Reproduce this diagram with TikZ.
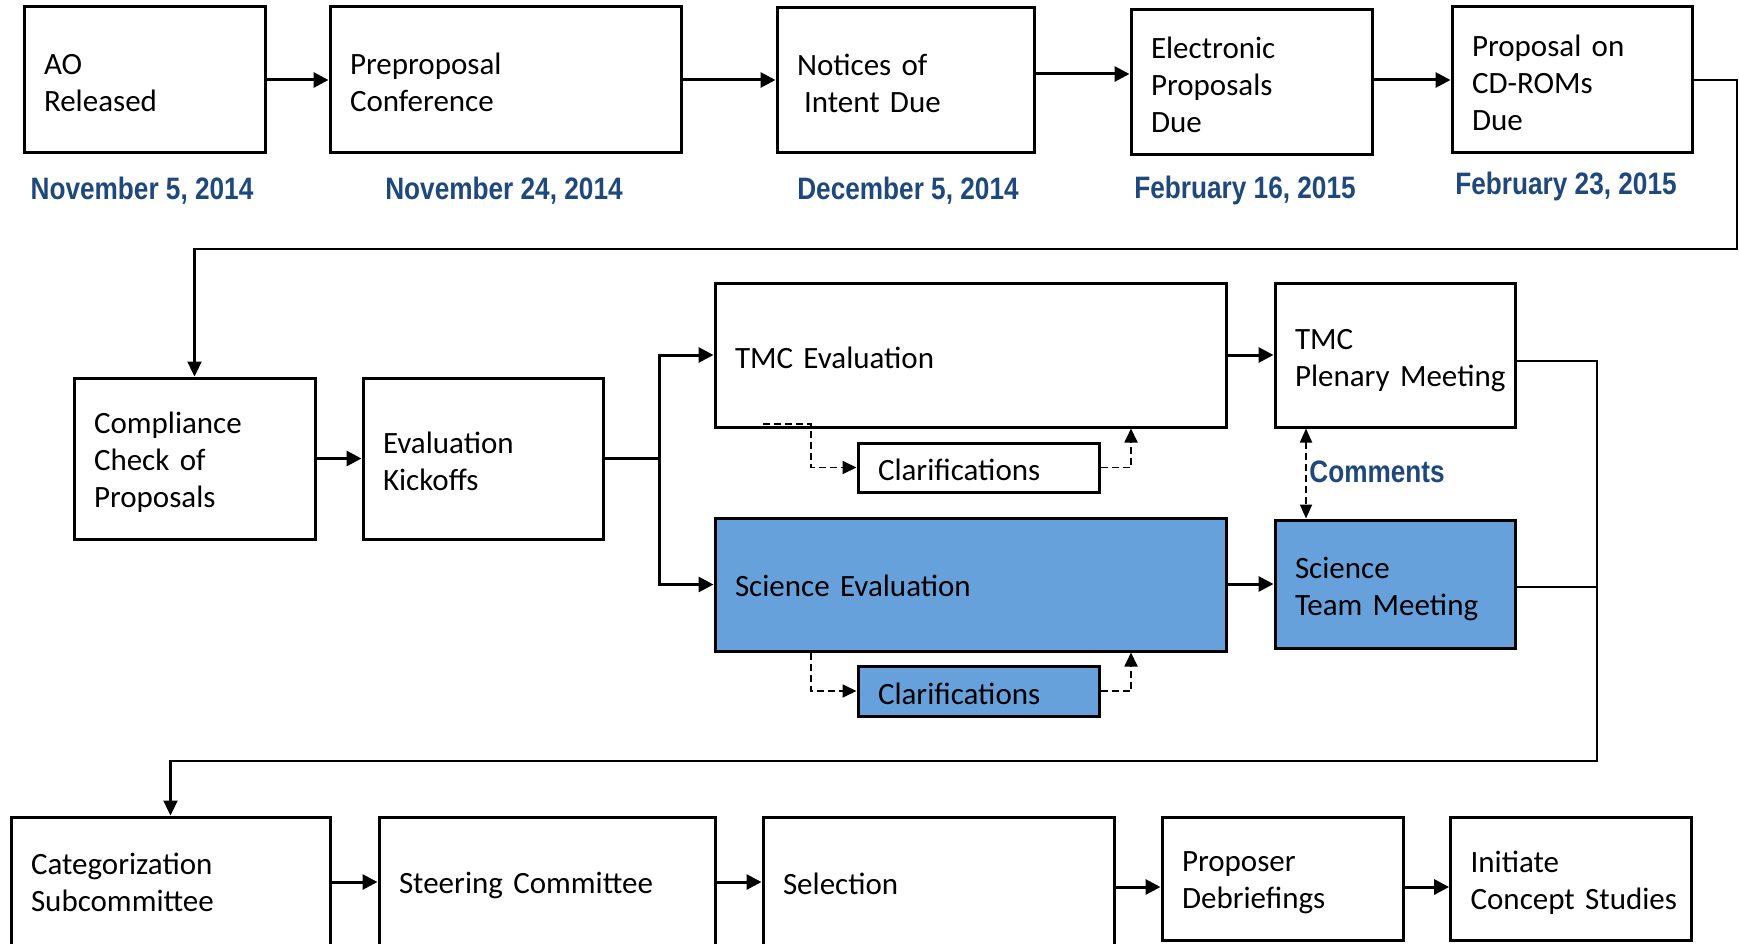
\documentclass[tikz,border=0pt]{standalone}
\usepackage{fontspec}
\usepackage{graphicx}
\setmainfont{Carlito}
\newfontfamily\datefont{Liberation Sans}
\usetikzlibrary{arrows.meta}
\definecolor{dateblue}{RGB}{31,73,125}
\definecolor{boxblue}{RGB}{102,161,220}
\def\tdshift{2.5pt}
\newcommand\boxline[1]{\raisebox{-\tdshift}[\height][\depth]{#1}}
\newcommand\datetext[1]{\scalebox{0.845}[1]{#1}}
\tikzset{
  tdown/.style={execute at begin node={\def\tdshift{#1}}},
  box/.style={draw=black, line width=3pt, fill=white, align=left, inner xsep=20pt, inner ysep=0pt, font=\fontsize{31}{37}\selectfont, tdown=2.5pt},
  bluebox/.style={box, fill=boxblue},
  datelbl/.style={text=dateblue, font=\datefont\bfseries\fontsize{31}{36}\selectfont, inner sep=0pt},
  conn/.style={line width=3pt, -{Triangle[length=15pt,width=15pt]}},
  route/.style={line width=2.3pt},
  routearr/.style={line width=2.3pt, -{Triangle[length=15pt,width=14pt]}},
  dashline/.style={line width=1.8pt, dash pattern=on 7pt off 4pt},
  dasharr/.style={dashline, -{Triangle[length=14pt,width=13pt]}},
  dashboth/.style={dashline, {Triangle[length=14pt,width=12pt]}-{Triangle[length=14pt,width=12pt]}},
}
\begin{document}
\begin{tikzpicture}[x=1pt,y=-1pt]
\useasboundingbox (0,0) rectangle (1739,944);
\fill[white] (0,0) rectangle (1739,944);
\clip (0,0) rectangle (1739,944);

% top row
\node[box, minimum width=241pt, minimum height=146pt, text width=201pt, tdown=3.3pt] (ao) at (144.5,80) {\boxline{AO}\\\boxline{Released}};
\node[box, minimum width=351pt, minimum height=146pt, text width=311pt] (pre) at (505.5,80) {\boxline{Preproposal}\\\boxline{Conference}};
\node[box, minimum width=257pt, minimum height=145pt, text width=217pt] (not) at (905.5,80.5) {\boxline{Notices of}\\\hspace*{7pt}\boxline{Intent Due}};
\node[box, minimum width=241pt, minimum height=145pt, text width=201pt] (ele) at (1251.5,82.5) {\boxline{Electronic}\\\boxline{Proposals}\\\boxline{Due}};
\node[box, minimum width=240pt, minimum height=146pt, text width=200pt] (cd) at (1572,80) {\boxline{Proposal on}\\\boxline{CD-ROMs}\\\boxline{Due}};

\node[datelbl] (dt1) at (142,191) {\datetext{November 5, 2014}};
\node[datelbl] (dt2) at (504,191) {\datetext{November 24, 2014}};
\node[datelbl] (dt3) at (908,191) {\datetext{December 5, 2014}};
\node[datelbl] (dt4) at (1245,190) {\datetext{February 16, 2015}};
\node[datelbl] (dt5) at (1566,186) {\datetext{February 23, 2015}};

% middle
\node[box, minimum width=241pt, minimum height=161pt, text width=201pt, tdown=3.3pt] (comp) at (194.5,458.5) {\boxline{Compliance}\\\boxline{Check of}\\\boxline{Proposals}};
\node[box, minimum width=240pt, minimum height=161pt, text width=200pt] (kick) at (483,458.5) {\boxline{Evaluation}\\\boxline{Kickoffs}};
\node[box, minimum width=511pt, minimum height=144pt, text width=471pt] (tmc) at (970.5,355) {\boxline{TMC Evaluation}};
\node[box, minimum width=240pt, minimum height=144pt, text width=200pt, tdown=5.5pt] (plen) at (1395,355) {\boxline{TMC}\\\boxline{Plenary Meeting}};
\node[box, minimum width=241pt, minimum height=49pt, text width=201pt] (cl1) at (978.5,467.5) {\boxline{Clarifications}};
\node[bluebox, minimum width=511pt, minimum height=133pt, text width=471pt, tdown=1pt] (sci) at (970.5,584.5) {\boxline{Science Evaluation}};
\node[bluebox, minimum width=240pt, minimum height=128pt, text width=200pt, tdown=4.5pt] (team) at (1395,584) {\boxline{Science}\\\boxline{Team Meeting}};
\node[bluebox, minimum width=241pt, minimum height=50pt, text width=201pt] (cl2) at (978.5,691) {\boxline{Clarifications}};
\node[datelbl] (cmt) at (1377,472) {\datetext{Comments}};

% bottom
\node[box, minimum width=319pt, minimum height=135pt, text width=279pt, tdown=-2.2pt] (cat) at (170.5,884.5) {\boxline{Categorization}\\\boxline{Subcommittee}};
\node[box, minimum width=336pt, minimum height=135pt, text width=296pt, tdown=1pt] (ste) at (547,884.5) {\boxline{Steering Committee}};
\node[box, minimum width=351.5pt, minimum height=135pt, text width=311.5pt, tdown=-1pt] (sel) at (938.75,884.5) {\boxline{Selection}};
\node[box, minimum width=241pt, minimum height=123pt, text width=201pt, tdown=4.5pt] (prop) at (1282.5,878.5) {\boxline{Proposer}\\\boxline{Debriefings}};
\node[box, minimum width=240.4pt, minimum height=123pt, text width=200.4pt, tdown=4.5pt] (init) at (1570.8,878.5) {\boxline{Initiate}\\\boxline{Concept Studies}};

% helper coordinates
\coordinate (ya) at (0,74);
\coordinate (r1) at (1737,249);
\coordinate (sp) at (659,0);
\coordinate (r2) at (1597,761);
\coordinate (da) at (763,424);
\coordinate (db) at (811,424);
\coordinate (dc) at (1131,0);
\coordinate (cx) at (1306,0);
\coordinate (yb1) at (0,882);
\coordinate (yb2) at (0,887);

% top connectors
\draw[conn] (ao.east) -- (ao.east -| pre.west);
\draw[conn] (pre.east) -- (pre.east -| not.west);
\draw[conn] (not.east |- ya) -- (ele.west |- ya);
\draw[conn] (ele.east |- cd.west) -- (cd.west);
\draw[routearr] (cd.east) -| (r1) -| (comp.north);

% middle connectors
\draw[conn] (comp.east |- kick.west) -- (kick.west);
\draw[route] (kick.east) -- (kick.east -| sp);
\draw[conn] (kick.east -| sp) |- (tmc.west);
\draw[conn] (kick.east -| sp) |- (sci.west);
\draw[conn] (tmc.east) -- (plen.west);
\draw[conn] (sci.east |- team.west) -- (team.west);
\draw[routearr] ([yshift=-6pt]plen.east) -| (r2) -| (cat.north);
\draw[route] ([yshift=-3pt]team.east) -- ([yshift=-3pt]team.east -| r2);

% dashed clarifications
\draw[dasharr] (da) -- (db) |- (cl1.west);
\draw[dasharr] (cl1.east) -| (dc |- tmc.south);
\draw[dasharr] (sci.south -| db) |- (cl2.west);
\draw[dasharr] (cl2.east) -| (dc |- sci.south);
\draw[dashboth] (cx |- plen.south) -- (cx |- team.north);

% bottom connectors
\draw[conn] (cat.east |- yb1) -- (ste.west |- yb1);
\draw[conn] (ste.east |- yb1) -- (sel.west |- yb1);
\draw[conn] (sel.east |- yb2) -- (prop.west |- yb2);
\draw[conn] (prop.east |- yb2) -- (init.west |- yb2);
\end{tikzpicture}
\end{document}
